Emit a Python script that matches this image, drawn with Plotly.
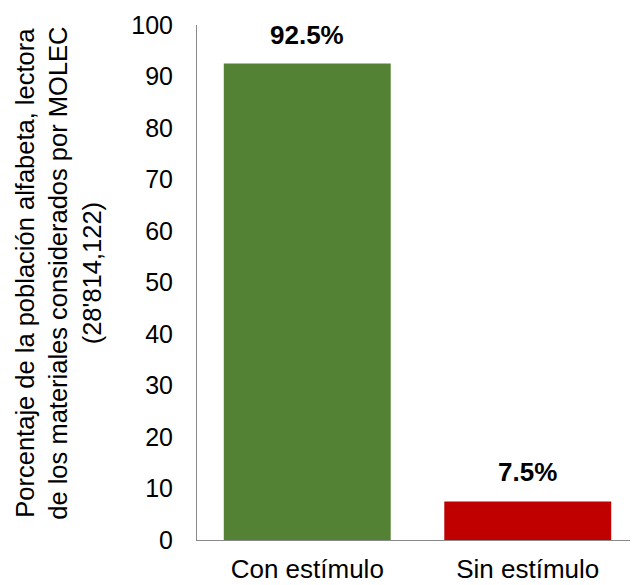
import plotly.graph_objects as go

categories = ["Con estímulo", "Sin estímulo"]
values = [92.5, 7.5]
labels = ["92.5%", "7.5%"]
colors = ["#548235", "#C00000"]
ytick_vals = [0, 10, 20, 30, 40, 50, 60, 70, 80, 90, 100]
title_lines = ["Porcentaje de la población alfabeta, lectora",
               "de los materiales considerados por MOLEC",
               "(28'814,122)"]

FONT = "Liberation Sans, Arial, sans-serif"

fig = go.Figure()
fig.add_trace(go.Bar(x=categories, y=values, marker=dict(color=colors, line=dict(width=0)),
                     hoverinfo="skip"))

for c, v, t in zip(categories, values, labels):
    fig.add_annotation(x=c, y=v, text="<b>" + t + "</b>", showarrow=False,
                       xref="x", yref="y", yanchor="bottom", yshift=12,
                       font=dict(family=FONT, size=26, color="#000000"))

fig.add_annotation(x=0, y=0.517, xref="paper", yref="paper", xanchor="center", yanchor="middle",
                   xshift=-139, textangle=-90, showarrow=False, borderpad=0,
                   text="<br>".join(title_lines),
                   font=dict(family=FONT, size=25.5, color="#000000"))

# page body has an 8px default margin, so the figure is sized to fit inside the window
fig.update_layout(
    width=630, height=577,
    margin=dict(l=189, r=0, t=17, b=45, autoexpand=False),
    paper_bgcolor="white", plot_bgcolor="white",
    bargap=0.243,
    showlegend=False,
    font=dict(family=FONT, size=26, color="#000000"),
)
fig.update_yaxes(range=[0, 100], tickvals=ytick_vals, showgrid=False, zeroline=False,
                 showline=True, linecolor="#898989", linewidth=1, ticks="", automargin=False,
                 ticklabelstandoff=18, tickfont=dict(family=FONT, size=25, color="#000000"))
fig.update_xaxes(showgrid=False, zeroline=False, showline=True, linecolor="#898989",
                 linewidth=1, ticks="", ticklabelstandoff=6, automargin=False,
                 tickfont=dict(family=FONT, size=26, color="#000000"))

fig.write_html("out.html")
